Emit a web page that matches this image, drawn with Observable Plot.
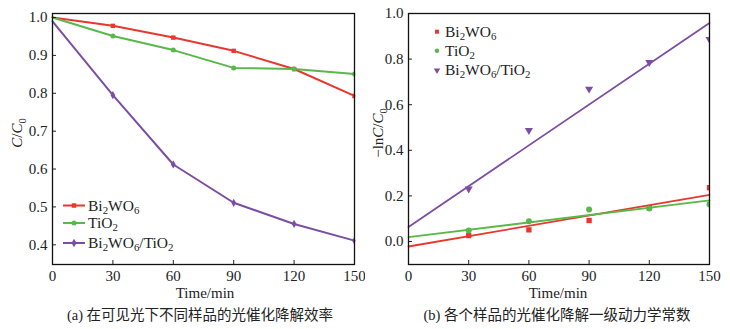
<!DOCTYPE html>
<html><head><meta charset="utf-8">
<script src="https://cdn.jsdelivr.net/npm/d3@7"></script>
<script src="https://cdn.jsdelivr.net/npm/@observablehq/plot@0.6"></script>
<style>
body{margin:0;background:#fff;}
#wrap{position:relative;width:730px;height:329px;}
#wrap > svg{position:absolute;top:0;font-family:'Liberation Serif','Times New Roman',serif !important;}
</style></head>
<body><div id="wrap"></div>
<script>
// ---- data ----
const times = [0, 30, 60, 90, 120, 150];
const seriesNames = ["Bi2WO6", "TiO2", "Bi2WO6/TiO2"];
const colors = ["#e8372e", "#58b84a", "#7c4ea3"];
// (a) C/C0
const ccBi = [1.0, 0.978, 0.947, 0.912, 0.864, 0.793];
const ccTi = [1.0, 0.951, 0.914, 0.867, 0.864, 0.851];
const ccComp = [0.99, 0.795, 0.612, 0.511, 0.455, 0.411];
// (b) -ln C/C0
const lnBi = [0.0, 0.026, 0.051, 0.092, 0.148, 0.236];
const lnTi = [0.0, 0.048, 0.089, 0.140, 0.145, 0.163];
const lnComp = [0.0, 0.231, 0.487, 0.669, 0.786, 0.887];
// linear fit endpoints (t=0, t=150)
const fitT = [0, 150];
const fitBi = [-0.022, 0.204];
const fitTi = [0.019, 0.180];
const fitComp = [0.064, 0.958];
// ticks
const xTicks = [0, 30, 60, 90, 120, 150];
const yTicksA = [0.4, 0.5, 0.6, 0.7, 0.8, 0.9, 1.0];
const yTicksB = [0.0, 0.2, 0.4, 0.6, 0.8, 1.0];
const captionA = "(a) 在可见光下不同样品的光催化降解效率";
const captionB = "(b) 各个样品的光催化降解一级动力学常数";

const symbolsA = ["square", "circle", "diamond"];
const symbolsB = ["square", "circle", "triangle"];

function table(ys, name) { return times.map((t, i) => ({t, v: ys[i], s: name})); }
const dataA = [...table(ccBi, seriesNames[0]), ...table(ccTi, seriesNames[1]), ...table(ccComp, seriesNames[2])];
const dataB = [...table(lnBi, seriesNames[0]), ...table(lnTi, seriesNames[1]), ...table(lnComp, seriesNames[2])];
const fits = [fitBi, fitTi, fitComp].flatMap((f, k) => fitT.map((t, i) => ({t, v: f[i], s: seriesNames[k]})));

const FONT = "'Liberation Serif', 'Times New Roman', serif";
const wrap = document.getElementById("wrap");

function axes(yTicks, fmt) {
  return [
    Plot.axisX({ticks: xTicks, tickSize: 0, tickPadding: 6, fontSize: 15}),
    Plot.axisX({ticks: xTicks, tickSize: -4, tickFormat: () => ""}),
    Plot.axisY({ticks: yTicks, tickSize: 0, tickPadding: 5, fontSize: 15, tickFormat: fmt}),
    Plot.axisY({ticks: yTicks, tickSize: -4, tickFormat: () => ""})
  ];
}
const colorScale = {domain: seriesNames, range: colors};

const plotA = Plot.plot({
  width: 365, height: 329,
  marginLeft: 52, marginRight: 11, marginTop: 13, marginBottom: 65,
  style: {fontFamily: FONT, fontSize: "15px", color: "#222", background: "transparent"},
  x: {domain: [0, 150], label: null},
  y: {domain: [0.348, 1.0106], label: null},
  color: colorScale,
  symbol: {domain: seriesNames, range: symbolsA},
  marks: [
    Plot.line(dataA, {x: "t", y: "v", z: "s", stroke: "s", strokeWidth: 2}),
    Plot.dot(dataA.filter(d => d.t > 0), {x: "t", y: "v", fill: "s", symbol: "s", r: 2.5, clip: true}),
    ...axes(yTicksA, d3.format(".1f")),
    Plot.frame({stroke: "#111", strokeWidth: 1.3})
  ]
});
plotA.style.left = "0px";
wrap.appendChild(plotA);

const plotB = Plot.plot({
  width: 365, height: 329,
  marginLeft: 43, marginRight: 21, marginTop: 13, marginBottom: 65,
  style: {fontFamily: FONT, fontSize: "15px", color: "#222", background: "transparent"},
  x: {domain: [0, 150], label: null},
  y: {domain: [-0.101, 1.0], label: null},
  color: colorScale,
  symbol: {domain: seriesNames, range: symbolsB},
  marks: [
    Plot.line(fits, {x: "t", y: "v", z: "s", stroke: "s", strokeWidth: 1.8}),
    Plot.dot(dataB.filter(d => d.t > 0), {x: "t", y: "v", fill: "s", symbol: "s",
      r: d => d.s === seriesNames[2] ? 2.1 : 2.1,
      rotate: d => d.s === seriesNames[2] ? 180 : 0, clip: true}),
    ...axes(yTicksB, d3.format(".1f")),
    Plot.frame({stroke: "#111", strokeWidth: 1.3})
  ]
});
plotB.style.left = "365px";
wrap.appendChild(plotB);

// ---- rich text helper ----
function rich(g, parts, size, subShift) {
  const t = g.append("text").attr("font-family", FONT).attr("font-size", size).attr("fill", "#222")
    .attr("text-anchor", "start");
  let shift = 0;
  for (const [s, type] of parts) {
    const sp = t.append("tspan").text(s);
    const want = type === "sub" ? subShift : 0;
    if (want !== shift) { sp.attr("dy", want - shift); shift = want; }
    if (type === "sub") sp.attr("font-size", size * 0.7);
    if (type === "i") sp.attr("font-style", "italic");
  }
  return t;
}
const labelParts = [
  [["Bi", ""], ["2", "sub"], ["WO", ""], ["6", "sub"]],
  [["TiO", ""], ["2", "sub"]],
  [["Bi", ""], ["2", "sub"], ["WO", ""], ["6", "sub"], ["/TiO", ""], ["2", "sub"]]
];

function decorate(svg, o) {
  const s = d3.select(svg);
  // x label
  s.append("text").attr("x", o.xlabX).attr("y", 298).attr("text-anchor", "middle")
    .attr("font-family", FONT).attr("font-size", 15).attr("fill", "#222").text("Time/min");
  // caption
  s.append("text").attr("x", o.capX).attr("y", 320).attr("text-anchor", "middle")
    .attr("font-family", "'Liberation Serif', 'Noto Sans CJK SC', serif").attr("font-size", 14.5).attr("fill", "#222").text(o.caption);
  // y label
  const gy = s.append("g").attr("transform", `translate(${o.ylabX},133) rotate(-90)`);
  rich(gy, o.ylab, 15, 4).attr("text-anchor", "middle");
  // legend
  const lg = s.append("g");
  o.rows.forEach((y, i) => {
    if (o.lineLegend) {
      lg.append("line").attr("x1", o.mx - 11).attr("x2", o.mx + 11).attr("y1", y).attr("y2", y)
        .attr("stroke", colors[i]).attr("stroke-width", 2);
    }
    const sym = d3.symbol().type(o.syms[i]).size(o.symSize[i])();
    lg.append("path").attr("d", sym).attr("fill", colors[i])
      .attr("transform", `translate(${o.mx},${y})` + (o.rot[i] ? " rotate(180)" : ""));
    rich(lg.append("g").attr("transform", `translate(${o.tx},${y + 5})`), labelParts[i], 15.5, 3);
  });
}

decorate(plotA, {
  xlabX: 205, capX: 200, caption: captionA, ylabX: 22,
  ylab: [["C", "i"], ["/", ""], ["C", "i"], ["0", "sub"]],
  rows: [205.5, 223, 243], lineLegend: true, mx: 74, tx: 88,
  syms: [d3.symbolSquare, d3.symbolCircle, d3.symbolDiamond], symSize: [20, 20, 22], rot: [0, 0, 0]
});
decorate(plotB, {
  xlabX: 193, capX: 192, caption: captionB, ylabX: 18,
  ylab: [["−ln", ""], ["C", "i"], ["/", ""], ["C", "i"], ["0", "sub"]],
  rows: [31.7, 50.7, 70.3], lineLegend: false, mx: 72, tx: 80,
  syms: [d3.symbolSquare, d3.symbolCircle, d3.symbolTriangle], symSize: [16, 16, 18], rot: [0, 0, 1]
});
</script></body></html>
